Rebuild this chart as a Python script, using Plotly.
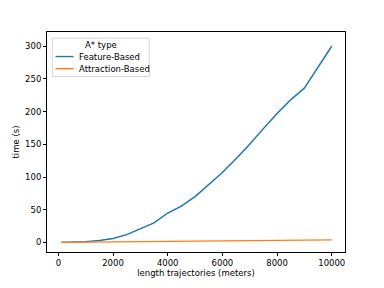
import plotly.graph_objects as go

lengths = [100, 500, 1000, 1500, 2000, 2500, 3000, 3500, 4000, 4500, 5000, 5500,
           6000, 6500, 7000, 7500, 8000, 8500, 9000, 9500, 10000]
feature_time = [0.1, 0.4, 1.2, 3.0, 6.0, 12.0, 21.0, 30.0, 45.0, 55.5, 70.0, 88.0,
                107.0, 128.0, 150.0, 174.0, 197.0, 218.0, 236.0, 268.0, 300.0]
feature_err = [0.0, 0.1, 0.2, 0.3, 0.4, 0.5, 0.6, 0.7, 0.8, 0.9, 1.0, 1.1,
               1.2, 1.3, 1.4, 1.5, 1.7, 1.9, 2.1, 2.4, 2.8]
attraction_time = [0.05, 0.2, 0.4, 0.6, 0.8, 1.0, 1.2, 1.4, 1.6, 1.8, 2.0, 2.2,
                   2.4, 2.6, 2.8, 3.0, 3.2, 3.4, 3.6, 3.8, 4.0]
attraction_err = [0.0, 0.02, 0.04, 0.05, 0.06, 0.07, 0.08, 0.09, 0.1, 0.11, 0.12, 0.13,
                  0.14, 0.15, 0.16, 0.17, 0.18, 0.19, 0.2, 0.21, 0.22]
x_ticks = [0, 2000, 4000, 6000, 8000, 10000]
x_ticklabels = ["0", "2000", "4000", "6000", "8000", "10000"]
y_ticks = [0, 50, 100, 150, 200, 250, 300]
series_names = ["Feature-Based", "Attraction-Based"]
legend_title = "A* type"

BLUE = "#1f77b4"
ORANGE = "#ff7f0e"
W, H = 384, 288
ML, MR, MT, MB = 47, 39, 32, 32
PW, PH = W - ML - MR, H - MT - MB


def px(x):
    return (x - ML) / PW


def py(y):
    return 1 - (y - MT) / PH


fig = go.Figure()


def band(x, y, e, color):
    upper = [a + b for a, b in zip(y, e)]
    lower = [a - b for a, b in zip(y, e)]
    return go.Scatter(x=x + x[::-1], y=upper + lower[::-1], fill="toself",
                      fillcolor=color, line=dict(width=0), mode="lines",
                      hoverinfo="skip", showlegend=False)


fig.add_trace(band(lengths, feature_time, feature_err, "rgba(31,119,180,0.25)"))
fig.add_trace(band(lengths, attraction_time, attraction_err, "rgba(255,127,14,0.25)"))
fig.add_trace(go.Scatter(x=lengths, y=feature_time, mode="lines", name=series_names[0],
                         line=dict(color=BLUE, width=1.4), showlegend=False))
fig.add_trace(go.Scatter(x=lengths, y=attraction_time, mode="lines", name=series_names[1],
                         line=dict(color=ORANGE, width=1.4), showlegend=False))

axis_common = dict(showgrid=False, zeroline=False, showline=True, linecolor="black",
                   linewidth=1, mirror=True, ticks="outside", ticklen=3, tickwidth=1,
                   tickcolor="black", tickfont=dict(size=8.5, color="black"))

# manual matplotlib-style legend
shapes = [dict(type="rect", xref="paper", yref="paper",
               x0=px(52.3), x1=px(149.3), y0=py(77.3), y1=py(38.3),
               line=dict(color="#d6d6d6", width=1), fillcolor="rgba(255,255,255,0.8)",
               layer="above")]
annotations = [dict(text=legend_title, xref="paper", yref="paper", x=px(100.8), y=py(45.5),
                    xanchor="center", yanchor="middle", showarrow=False,
                    font=dict(size=8.5, color="black"))]
for name, color, yy in [(series_names[0], BLUE, 57.0), (series_names[1], ORANGE, 69.3)]:
    shapes.append(dict(type="line", xref="paper", yref="paper", x0=px(55.5), x1=px(73.5),
                       y0=py(yy), y1=py(yy), line=dict(color=color, width=1.4), layer="above"))
    annotations.append(dict(text=name, xref="paper", yref="paper", x=px(76.5), y=py(yy),
                            xanchor="left", yanchor="middle", showarrow=False,
                            font=dict(size=8.5, color="black")))

fig.update_layout(
    width=W, height=H,
    margin=dict(l=ML, r=MR, t=MT, b=MB),
    paper_bgcolor="white", plot_bgcolor="white",
    font=dict(family="DejaVu Sans", size=8.5, color="black"),
    showlegend=False,
    xaxis=dict(range=[-415, 10485], tickvals=x_ticks, ticktext=x_ticklabels,
               title=dict(text="length trajectories (meters)", standoff=2,
                          font=dict(size=8.5)), **axis_common),
    yaxis=dict(range=[-14.6, 321.6], tickvals=y_ticks,
               title=dict(text="time (s)", standoff=4, font=dict(size=8.5)),
               **axis_common),
    shapes=shapes,
    annotations=annotations,
)

fig.write_html("out.html", config={"displayModeBar": False},
               post_script="document.body.style.margin='0';"
                           "document.body.style.overflow='hidden';")
